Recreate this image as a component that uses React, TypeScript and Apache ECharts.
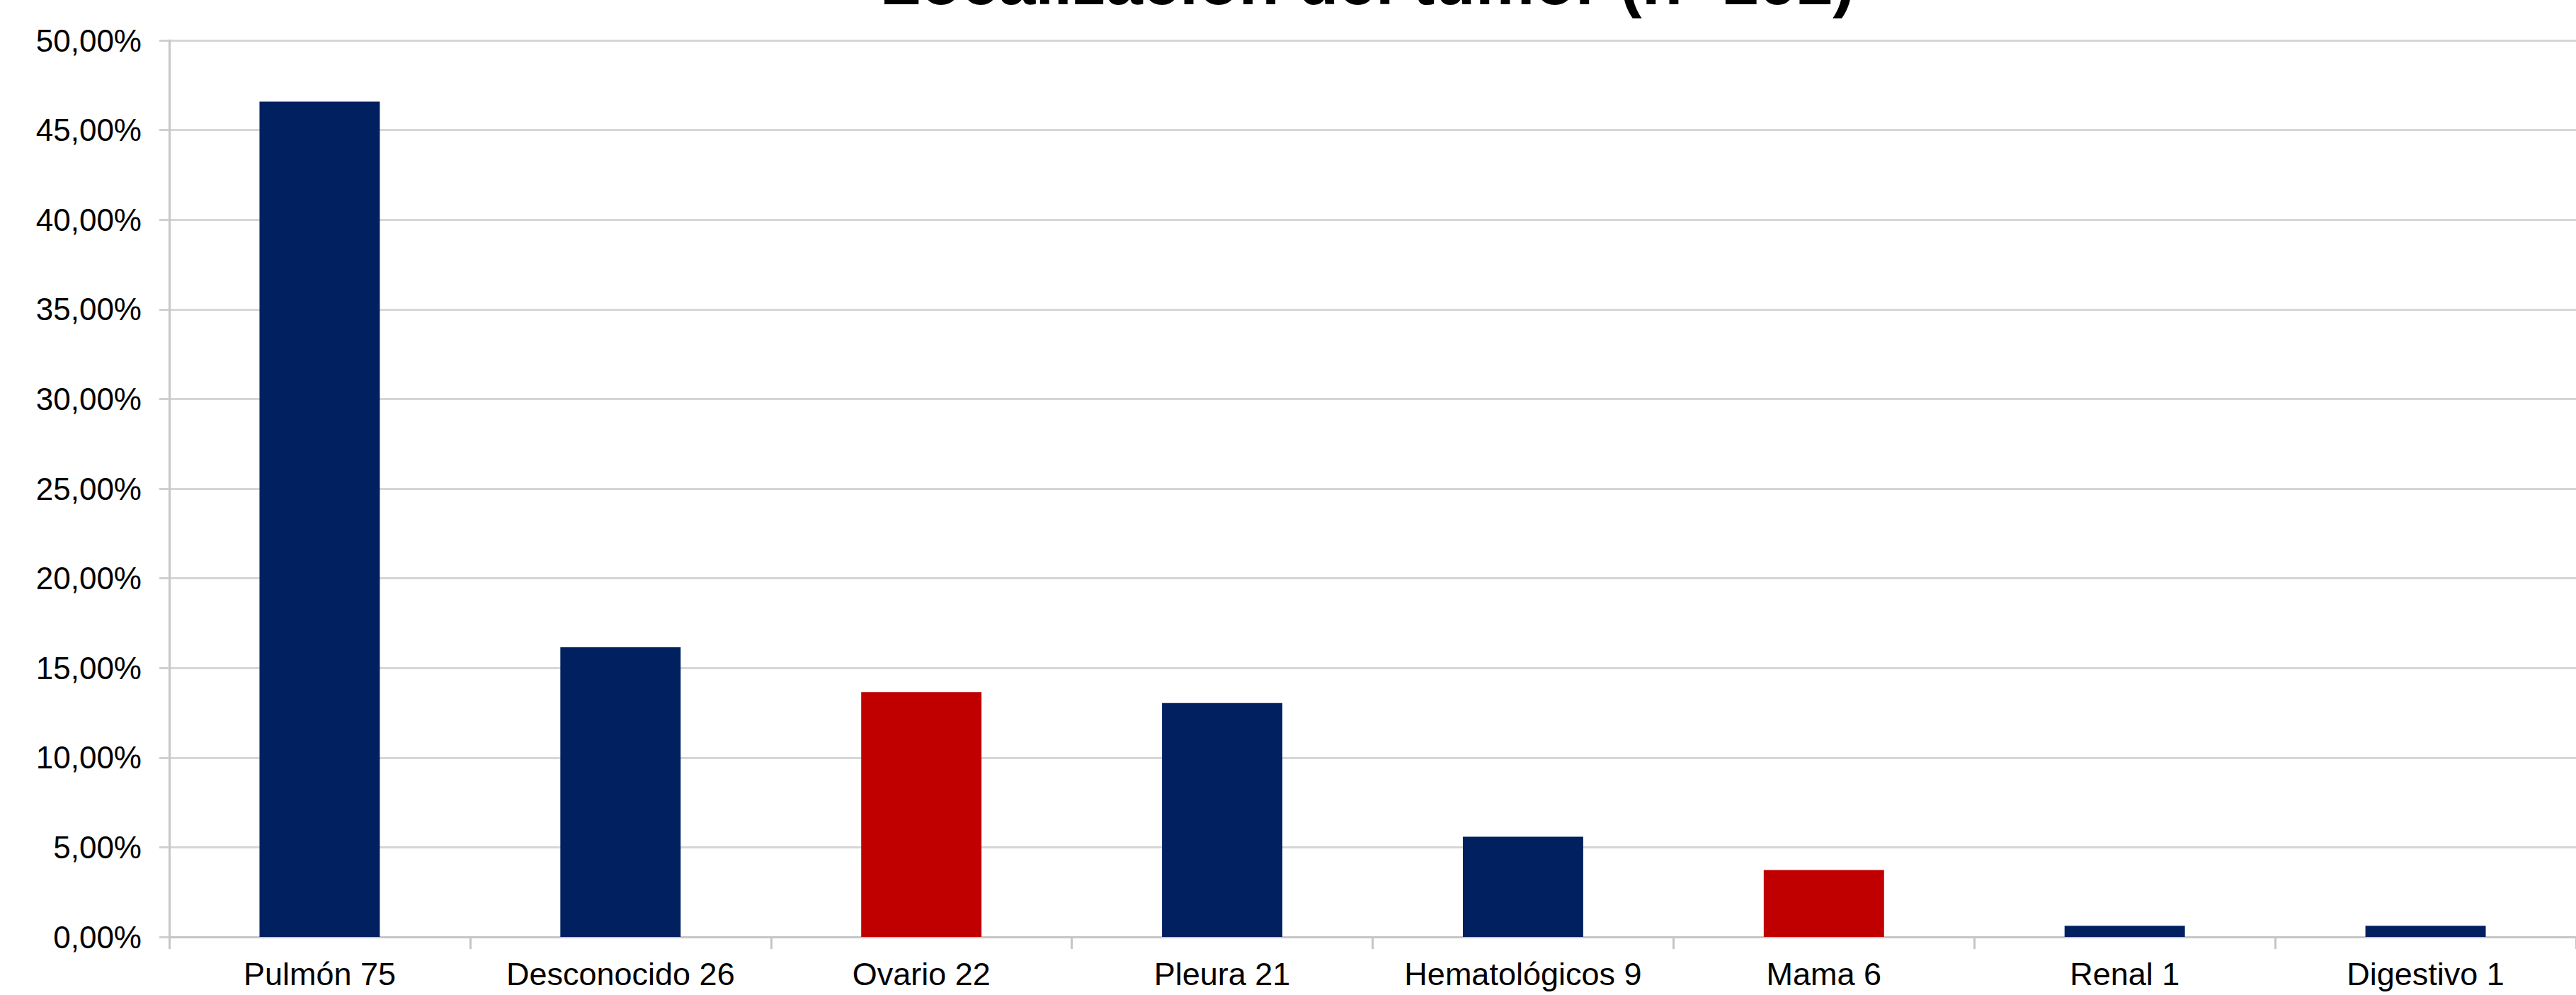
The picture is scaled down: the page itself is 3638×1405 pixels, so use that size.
import React, { useEffect, useRef } from "react";
import * as echarts from "echarts";

const titleText = "Localización del tumor (n=161)";
const categories = [
  "Pulmón 75",
  "Desconocido 26",
  "Ovario 22",
  "Pleura 21",
  "Hematológicos 9",
  "Mama 6",
  "Renal 1",
  "Digestivo 1",
];
const percentValues = [46.58, 16.15, 13.66, 13.04, 5.59, 3.73, 0.62, 0.62];
const highlighted = [false, false, true, false, false, true, false, false];
const yTickMin = 0;
const yTickMax = 50;
const yTickStep = 5;

const NAVY = "#002060";
const RED = "#c00000";
const FONT = "'Liberation Sans', Arial, sans-serif";

export default function App() {
  const ref = useRef<HTMLDivElement>(null);

  useEffect(() => {
    document.body.style.margin = "0";
    if (!ref.current) return;
    const chart = echarts.init(ref.current, null, { renderer: "svg" });
    chart.setOption({
      animation: false,
      backgroundColor: "#ffffff",
      grid: { left: 239, right: -11, top: 57, bottom: 82, containLabel: false },
      graphic: [
        {
          type: "text",
          x: 1931,
          y: -74,
          style: {
            text: titleText,
            textAlign: "center",
            fontFamily: FONT,
            fontWeight: "bold",
            fontSize: 94,
            fill: "#000000",
          },
        },
      ],
      xAxis: {
        type: "category",
        data: categories,
        axisLine: { show: true, lineStyle: { color: "#c6c6c6", width: 3 } },
        axisTick: {
          show: true,
          alignWithLabel: false,
          length: 17,
          lineStyle: { color: "#c6c6c6", width: 3 },
        },
        axisLabel: {
          margin: 30,
          fontFamily: FONT,
          fontSize: 45,
          color: "#000000",
          interval: 0,
        },
      },
      yAxis: {
        type: "value",
        min: yTickMin,
        max: yTickMax,
        interval: yTickStep,
        axisLine: { show: true, lineStyle: { color: "#c6c6c6", width: 3 } },
        axisTick: { show: true, length: 14, lineStyle: { color: "#d0d0d0", width: 3 } },
        splitLine: { show: true, lineStyle: { color: "#d6d6d6", width: 3 } },
        axisLabel: {
          margin: 39,
          fontFamily: FONT,
          fontSize: 44,
          color: "#000000",
          formatter: (v: number) => v.toFixed(2).replace(".", ",") + "%",
        },
      },
      series: [
        {
          type: "bar",
          barWidth: "40%",
          data: percentValues.map((v, i) => ({
            value: v,
            itemStyle: { color: highlighted[i] ? RED : NAVY },
          })),
        },
      ],
    });
    return () => chart.dispose();
  }, []);

  return <div ref={ref} style={{ width: 3638, height: 1405 }} />;
}
